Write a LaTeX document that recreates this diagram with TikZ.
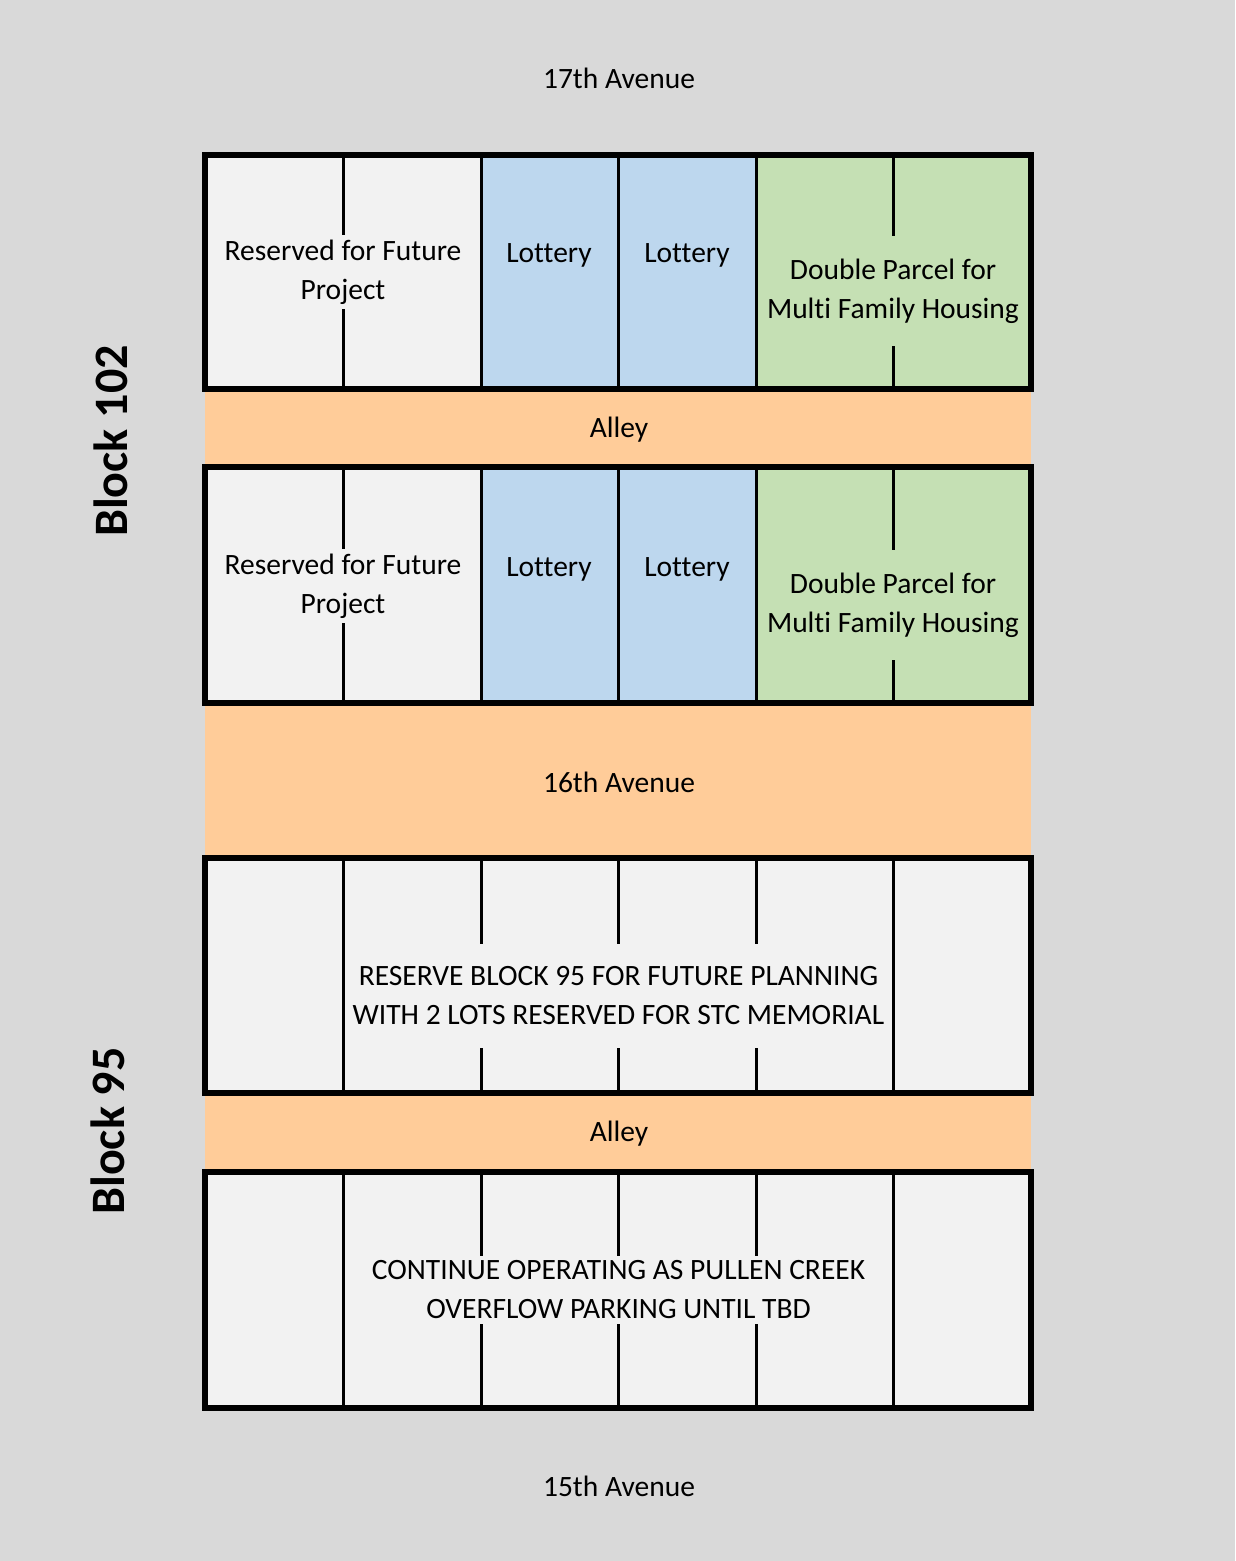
\documentclass[tikz,border=0pt]{standalone}
\usepackage{fontspec}
\setmainfont{Carlito}[Ligatures=CommonOff]
\usepackage{tikz}
\usetikzlibrary{positioning}
\definecolor{ground}{HTML}{D9D9D9}
\definecolor{lotgray}{HTML}{F2F2F2}
\definecolor{lotblue}{HTML}{BDD7EE}
\definecolor{lotgreen}{HTML}{C5E0B4}
\definecolor{street}{HTML}{FFCC99}
\tikzset{
x=1pt, y=-1pt, % one unit is one pixel of the plan, y runs downwards
lotline/.style={line width=3pt}, % thin lines between the lots
blockedge/.style={line width=6pt}, % thick edge round each row of lots
lottext/.style={font=\fontsize{29.5}{39}\selectfont, align=center, inner xsep=2pt, inner ysep=5pt}, % text over the lots
widetext/.style={lottext, inner ysep=23pt}, % same, but hides more of the lot lines
streettext/.style={font=\fontsize{29.5}{39}\selectfont}, % names of streets and alleys
blocktext/.style={font=\fontsize{48}{52}\selectfont\bfseries, rotate=90}, % block numbers on the left
}

\begin{document}
\begin{tikzpicture}
    \fill[ground] (0,0) rectangle (1235,1561);
    \useasboundingbox (0,0) rectangle (1235,1561);

    % streets and alleys
    \fill[street] (205,389) rectangle (1031,467);
    \fill[street] (205,703) rectangle (1031,858);
    \fill[street] (205,1093) rectangle (1031,1172);

    % lots of block 102
    \foreach \top/\bot in {155/389, 467/703} {
        \fill[lotgray] (205,\top) rectangle (481,\bot);
        \fill[lotblue] (481,\top) rectangle (756,\bot);
        \fill[lotgreen] (756,\top) rectangle (1031,\bot);
    }
    % lots of block 95
    \fill[lotgray] (205,858) rectangle (1031,1093);
    \fill[lotgray] (205,1172) rectangle (1031,1408);

    % lot lines
    \foreach \top/\bot in {155/389, 467/703, 858/1093, 1172/1408}
        \foreach \x in {343,481,618,756,893}
            \draw[lotline] (\x,\top) -- (\x,\bot);

    % block 102, north row
    \node[lottext, fill=lotgray] (reserveda) at (343,272) {Reserved for Future\\Project};
    \node[lottext, fill=lotblue] (lotterya) at (549,255) {Lottery};
    \node[lottext, fill=lotblue] (lotteryb) at (687,255) {Lottery};
    \node[widetext, fill=lotgreen] (doublea) at (893,291) {Double Parcel for\\Multi Family Housing};

    % block 102, south row
    \node[lottext, fill=lotgray] (reservedb) at (343,586) {Reserved for Future\\Project};
    \node[lottext, fill=lotblue] (lotteryc) at (549,569) {Lottery};
    \node[lottext, fill=lotblue] (lotteryd) at (687,569) {Lottery};
    \node[widetext, fill=lotgreen] (doubleb) at (893,605) {Double Parcel for\\Multi Family Housing};

    % block 95
    \node[widetext, fill=lotgray] (planning) at (618.5,996) {RESERVE BLOCK 95 FOR FUTURE PLANNING\\WITH 2 LOTS RESERVED FOR STC MEMORIAL};
    \node[lottext, fill=lotgray] (parking) at (618.5,1290) {CONTINUE OPERATING AS PULLEN CREEK\\OVERFLOW PARKING UNTIL TBD};

    % edges of the rows
    \draw[blockedge] (205,155) rectangle (1031,389);
    \draw[blockedge] (205,467) rectangle (1031,703);
    \draw[blockedge] (205,858) rectangle (1031,1093);
    \draw[blockedge] (205,1172) rectangle (1031,1408);

    % street names
    \node[streettext] (ave17) at (619,78) {17th Avenue};
    \node[streettext] (alleya) at (619,430) {Alley};
    \node[streettext] (ave16) at (619,782) {16th Avenue};
    \node[streettext] (alleyb) at (619,1134) {Alley};
    \node[streettext] (ave15) at (619,1486) {15th Avenue};

    % block numbers
    \node[blocktext] (block102) at (111,441) {Block 102};
    \node[blocktext] (block95) at (108,1131) {Block 95};
\end{tikzpicture}
\end{document}
